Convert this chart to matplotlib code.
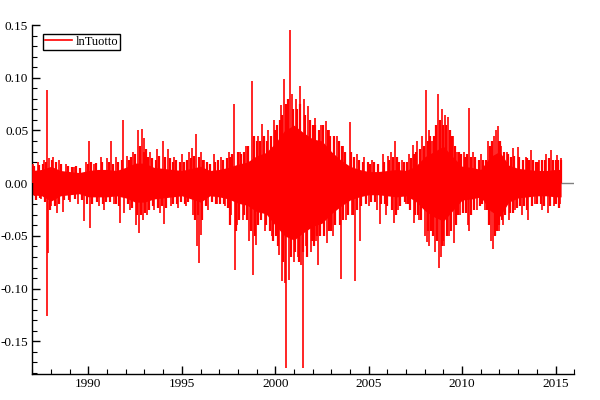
import matplotlib
matplotlib.use('Agg')
import matplotlib.pyplot as plt
from matplotlib.ticker import MultipleLocator, FormatStrFormatter

# dense core band of the daily log returns (half-year steps)
band_years = [1987.0, 1987.5, 1988.0, 1988.5, 1989.0, 1989.5, 1990.0, 1990.5,
              1991.0, 1991.5, 1992.0, 1992.5, 1993.0, 1993.5, 1994.0, 1994.5,
              1995.0, 1995.5, 1996.0, 1996.5, 1997.0, 1997.5, 1998.0, 1998.5,
              1999.0, 1999.5, 2000.0, 2000.5, 2001.0, 2001.5, 2002.0, 2002.5,
              2003.0, 2003.5, 2004.0, 2004.5, 2005.0, 2005.5, 2006.0, 2006.5,
              2007.0, 2007.5, 2008.0, 2008.5, 2009.0, 2009.5, 2010.0, 2010.5,
              2011.0, 2011.5, 2012.0, 2012.5, 2013.0, 2013.5, 2014.0, 2014.5,
              2015.0, 2015.3]
band_hi = [0.012, 0.013, 0.016, 0.012, 0.011, 0.010, 0.012, 0.013,
           0.013, 0.012, 0.015, 0.019, 0.019, 0.015, 0.014, 0.013,
           0.012, 0.014, 0.016, 0.012, 0.013, 0.015, 0.018, 0.020,
           0.026, 0.029, 0.038, 0.050, 0.055, 0.048, 0.042, 0.040,
           0.030, 0.022, 0.016, 0.013, 0.011, 0.011, 0.012, 0.013,
           0.012, 0.016, 0.025, 0.030, 0.035, 0.025, 0.016, 0.015,
           0.013, 0.025, 0.030, 0.017, 0.014, 0.013, 0.012, 0.012,
           0.013, 0.013]
band_lo = [-0.011, -0.012, -0.017, -0.012, -0.011, -0.010, -0.013, -0.013,
           -0.013, -0.012, -0.014, -0.018, -0.018, -0.015, -0.014, -0.013,
           -0.012, -0.015, -0.018, -0.012, -0.013, -0.015, -0.019, -0.021,
           -0.027, -0.029, -0.040, -0.050, -0.054, -0.047, -0.041, -0.038,
           -0.029, -0.022, -0.016, -0.013, -0.011, -0.011, -0.012, -0.013,
           -0.012, -0.017, -0.026, -0.032, -0.036, -0.026, -0.016, -0.015,
           -0.013, -0.026, -0.032, -0.018, -0.014, -0.013, -0.012, -0.012,
           -0.013, -0.013]

# single days that stick far out of the band
spike_years = [
    1987.05, 1987.15, 1987.3, 1987.45, 1987.6, 1987.80, 1987.80, 1987.82,
    1987.9, 1988.0, 1988.1, 1988.3, 1988.45, 1988.65, 1988.8, 1989.0,
    1989.2, 1989.45, 1989.78, 1989.85, 1990.05, 1990.07, 1990.3, 1990.55,
    1990.65, 1990.85, 1991.0, 1991.2, 1991.35, 1991.5, 1991.7, 1991.87,
    1991.92, 1992.05, 1992.2, 1992.4, 1992.55, 1992.67, 1992.7, 1992.85,
    1992.9, 1993.0, 1993.15, 1993.3, 1993.5, 1993.65, 1993.85, 1994.0,
    1994.05, 1994.27, 1994.4, 1994.6, 1994.8, 1995.0, 1995.2, 1995.4,
    1995.55, 1995.6, 1995.75, 1995.79, 1995.93, 1996.0, 1996.05, 1996.2,
    1996.4, 1996.7, 1996.9, 1997.1, 1997.3, 1997.5, 1997.65, 1997.8,
    1997.82, 1997.95, 1998.1, 1998.25, 1998.45, 1998.6, 1998.77, 1998.79,
    1998.95, 1999.1, 1999.3, 1999.45, 1999.6, 1999.8, 1999.95, 2000.2,
    2000.3, 2000.38, 2000.46, 2000.5, 2000.6, 2000.65, 2000.75, 2000.8,
    2000.9, 2001.0, 2001.1, 2001.2, 2001.3, 2001.4, 2001.46, 2001.55,
    2001.65, 2001.75, 2001.9, 2002.1, 2002.2, 2002.3, 2002.45, 2002.7,
    2002.75, 2002.9, 2003.1, 2003.3, 2003.5, 2003.65, 2003.8, 2003.99,
    2004.1, 2004.27, 2004.4, 2004.55, 2004.75, 2005.0, 2005.2, 2005.45,
    2005.6, 2005.75, 2005.9, 2006.05, 2006.2, 2006.37, 2006.4, 2006.55,
    2006.8, 2007.0, 2007.15, 2007.35, 2007.4, 2007.6, 2007.7, 2007.85,
    2008.0, 2008.05, 2008.1, 2008.23, 2008.25, 2008.4, 2008.55, 2008.71,
    2008.77, 2008.85, 2008.93, 2009.05, 2009.1, 2009.25, 2009.3, 2009.5,
    2009.55, 2009.75, 2009.9, 2010.1, 2010.3, 2010.37, 2010.35, 2010.6,
    2010.8, 2011.0, 2011.2, 2011.4, 2011.55, 2011.65, 2011.7, 2011.8,
    2011.92, 2011.95, 2012.1, 2012.2, 2012.4, 2012.5, 2012.7, 2012.85,
    2013.0, 2013.2, 2013.4, 2013.55, 2013.7, 2013.9, 2014.1, 2014.3,
    2014.5, 2014.6, 2014.77, 2014.9, 2015.1, 2015.25, 2015.3]
spike_vals = [
    0.018, -0.012, 0.020, -0.015, 0.022, 0.088, -0.126, -0.066,
    0.024, -0.022, 0.025, -0.028, 0.022, -0.027, 0.018, -0.018,
    0.015, -0.020, -0.036, 0.020, 0.040, -0.043, 0.018, -0.022,
    0.025, -0.025, 0.024, 0.040, -0.020, 0.025, -0.038, 0.060,
    -0.028, 0.026, -0.025, 0.030, -0.040, 0.050, -0.047, 0.051,
    -0.035, 0.043, -0.030, 0.030, -0.025, 0.032, -0.028, 0.040,
    -0.039, 0.032, -0.022, 0.025, -0.024, 0.028, -0.022, 0.030,
    0.033, -0.030, 0.047, -0.060, -0.076, -0.049, 0.030, 0.022,
    -0.025, 0.028, -0.020, 0.025, -0.022, 0.030, -0.030, 0.075,
    -0.082, -0.040, 0.030, -0.035, 0.035, -0.055, 0.097, -0.087,
    -0.059, 0.045, 0.056, -0.045, 0.050, -0.050, 0.060, -0.068,
    0.074, -0.093, 0.099, -0.095, -0.175, 0.070, -0.092, 0.145,
    0.085, -0.075, 0.080, -0.070, 0.092, -0.078, -0.175, 0.080,
    -0.060, 0.073, -0.065, 0.062, -0.055, -0.078, 0.055, 0.059,
    -0.057, 0.050, -0.050, 0.045, -0.091, 0.035, -0.035, 0.058,
    -0.030, -0.093, 0.028, -0.055, 0.025, -0.022, 0.022, -0.025,
    -0.039, 0.028, -0.030, 0.026, 0.030, -0.038, 0.040, -0.025,
    0.022, -0.020, 0.028, 0.036, -0.038, 0.040, -0.035, 0.045,
    -0.050, 0.088, -0.056, -0.060, 0.050, 0.040, -0.065, 0.085,
    -0.080, -0.070, 0.070, -0.060, 0.065, 0.063, -0.050, 0.045,
    -0.057, 0.030, -0.030, 0.030, -0.040, 0.071, -0.045, 0.030,
    -0.025, 0.028, -0.025, 0.040, -0.055, -0.062, 0.045, 0.050,
    0.054, -0.045, 0.035, -0.040, 0.030, -0.035, 0.033, -0.025,
    0.034, -0.030, 0.025, -0.035, 0.031, -0.020, 0.022, -0.025,
    0.028, -0.028, 0.031, -0.022, 0.027, -0.020, 0.024]

# medium days that make the ragged edge of the band: (year, return)
edge_days = [
    (1987.1, 0.016), (1987.2, -0.016), (1987.35, 0.017), (1987.4, -0.014),
    (1987.55, 0.018), (1987.7, -0.018), (1987.75, 0.020), (1987.95, -0.025),
    (1988.05, 0.022), (1988.2, -0.022), (1988.25, 0.020), (1988.4, -0.020),
    (1988.55, 0.018), (1988.7, -0.016), (1988.9, 0.016), (1988.95, -0.016),
    (1989.1, 0.015), (1989.3, -0.015), (1989.35, 0.016), (1989.55, 0.014),
    (1989.65, -0.016), (1989.9, -0.020), (1989.95, 0.018),
    (1990.15, 0.020), (1990.2, -0.020), (1990.4, 0.019), (1990.45, -0.018),
    (1990.75, 0.020), (1990.8, -0.020), (1990.95, -0.018),
    (1991.1, 0.020), (1991.15, -0.018), (1991.3, 0.018), (1991.45, -0.020),
    (1991.6, 0.020), (1991.65, -0.022), (1991.8, 0.022),
    (1992.1, -0.020), (1992.15, 0.022), (1992.3, 0.025), (1992.35, -0.024),
    (1992.5, 0.028), (1992.6, -0.030), (1992.75, 0.035), (1992.8, -0.030),
    (1992.95, 0.030), (1993.05, -0.028), (1993.1, 0.032), (1993.2, 0.025),
    (1993.25, -0.025), (1993.4, 0.024), (1993.45, -0.022), (1993.6, 0.022),
    (1993.7, -0.024), (1993.8, 0.026), (1993.95, -0.022),
    (1994.1, 0.025), (1994.15, -0.024), (1994.35, 0.024), (1994.5, -0.020),
    (1994.55, 0.020), (1994.7, 0.022), (1994.75, -0.020), (1994.9, 0.020),
    (1994.95, -0.018), (1995.1, 0.020), (1995.15, -0.020), (1995.3, 0.022),
    (1995.35, -0.018), (1995.5, 0.024), (1995.65, 0.026), (1995.7, -0.035),
    (1995.85, -0.030), (1995.9, 0.025),
    (1996.1, -0.035), (1996.15, 0.022), (1996.3, -0.022), (1996.35, 0.020),
    (1996.5, 0.018), (1996.6, -0.018), (1996.8, 0.020), (1996.85, -0.020),
    (1996.95, 0.022), (1997.05, -0.020), (1997.2, 0.022), (1997.25, -0.020),
    (1997.4, 0.024), (1997.45, -0.024), (1997.55, 0.025), (1997.6, -0.040),
    (1997.7, 0.028), (1997.9, -0.045),
    (1998.0, 0.030), (1998.05, -0.035), (1998.15, 0.028), (1998.3, -0.030),
    (1998.35, 0.030), (1998.5, -0.035), (1998.55, 0.035), (1998.7, -0.045),
    (1998.85, 0.045), (1998.9, -0.050),
    (1999.0, 0.040), (1999.05, -0.040), (1999.2, 0.040), (1999.25, -0.035),
    (1999.4, 0.045), (1999.5, -0.040), (1999.55, 0.040), (1999.7, -0.045),
    (1999.75, 0.045), (1999.9, -0.055),
    (2000.0, 0.050), (2000.05, -0.050), (2000.1, 0.055), (2000.15, -0.060),
    (2000.25, 0.060), (2000.35, 0.065), (2000.42, -0.075), (2000.55, 0.075),
    (2000.7, 0.080), (2000.85, -0.070), (2000.95, 0.070),
    (2001.05, -0.065), (2001.15, 0.070), (2001.25, -0.075), (2001.35, 0.075),
    (2001.5, -0.065), (2001.6, 0.065), (2001.7, -0.070), (2001.85, 0.060),
    (2001.95, -0.055),
    (2002.0, 0.055), (2002.05, -0.060), (2002.15, 0.055), (2002.25, -0.050),
    (2002.35, 0.050), (2002.4, -0.050), (2002.55, 0.055), (2002.6, -0.050),
    (2002.8, 0.050), (2002.85, -0.045), (2002.95, 0.045),
    (2003.0, -0.045), (2003.15, 0.045), (2003.2, -0.040), (2003.4, 0.040),
    (2003.45, -0.040), (2003.55, 0.035), (2003.6, -0.035), (2003.75, 0.030),
    (2003.9, -0.030),
    (2004.05, 0.030), (2004.15, -0.030), (2004.2, 0.025), (2004.35, -0.025),
    (2004.5, 0.022), (2004.6, -0.022), (2004.7, 0.020), (2004.85, -0.020),
    (2004.95, 0.020),
    (2005.05, 0.018), (2005.1, -0.018), (2005.3, 0.020), (2005.35, -0.018),
    (2005.5, 0.018), (2005.65, -0.020), (2005.8, 0.020), (2005.85, -0.020),
    (2006.0, -0.022), (2006.1, 0.022), (2006.25, -0.025), (2006.3, 0.025),
    (2006.45, -0.030), (2006.5, 0.025), (2006.6, 0.020), (2006.7, -0.022),
    (2006.9, 0.020), (2006.95, -0.018),
    (2007.05, 0.020), (2007.1, -0.020), (2007.2, -0.025), (2007.25, 0.024),
    (2007.45, 0.028), (2007.5, -0.030), (2007.55, 0.030), (2007.65, -0.030),
    (2007.75, 0.032), (2007.8, -0.035), (2007.95, 0.035),
    (2008.15, 0.040), (2008.2, -0.045), (2008.3, 0.045), (2008.35, -0.045),
    (2008.45, -0.050), (2008.5, 0.045), (2008.6, 0.055), (2008.65, -0.055),
    (2008.8, 0.060), (2008.9, -0.060), (2008.97, 0.055),
    (2009.0, -0.055), (2009.15, 0.055), (2009.2, -0.050), (2009.35, 0.050),
    (2009.4, -0.045), (2009.45, 0.045), (2009.6, 0.035), (2009.65, -0.040),
    (2009.8, -0.030), (2009.85, 0.030), (2009.95, 0.028),
    (2010.05, -0.028), (2010.15, 0.025), (2010.2, -0.028), (2010.25, 0.028),
    (2010.45, 0.025), (2010.5, -0.030), (2010.65, -0.025), (2010.7, 0.025),
    (2010.9, 0.022), (2010.95, -0.022),
    (2011.05, -0.020), (2011.1, 0.022), (2011.3, 0.022), (2011.35, -0.025),
    (2011.45, -0.040), (2011.5, 0.035), (2011.6, 0.040), (2011.75, -0.050),
    (2011.85, -0.045), (2011.98, 0.040),
    (2012.0, -0.040), (2012.05, 0.040), (2012.15, -0.035), (2012.25, 0.030),
    (2012.3, -0.030), (2012.45, 0.028), (2012.55, -0.028), (2012.6, 0.025),
    (2012.75, -0.028), (2012.8, 0.026), (2012.95, -0.024),
    (2013.05, 0.025), (2013.1, -0.022), (2013.25, 0.022), (2013.3, -0.022),
    (2013.45, 0.024), (2013.5, -0.025), (2013.6, 0.022), (2013.75, -0.022),
    (2013.8, 0.022), (2013.95, 0.020),
    (2014.0, -0.020), (2014.05, 0.020), (2014.2, -0.020), (2014.25, 0.022),
    (2014.4, -0.022), (2014.45, 0.022), (2014.65, 0.024), (2014.7, -0.022),
    (2014.85, 0.022), (2014.95, -0.020),
    (2015.0, 0.022), (2015.05, -0.020), (2015.15, 0.022), (2015.2, -0.024),
    (2015.28, 0.022)]

plt.rcParams['font.family'] = ['Liberation Serif', 'DejaVu Serif']

fig = plt.figure(figsize=(6, 4), dpi=100)
ax = fig.add_axes([0.054, 0.065, 0.903, 0.8725])

edge_years = [d[0] for d in edge_days]
edge_vals = [d[1] for d in edge_days]

ax.axhline(0, color='#808080', lw=1, zorder=1)
ax.fill_between(band_years, band_lo, band_hi, color='red', lw=0, zorder=2)
ax.vlines(edge_years, 0, edge_vals, color='red', lw=1.6, zorder=3)
ax.vlines(spike_years, 0, spike_vals, color='red', lw=1.2, zorder=3)
ax.plot([], [], color='red', lw=1.2, label='lnTuotto')

ax.set_xlim(1987.0, 2016.0)
ax.set_ylim(-0.181, 0.15)

ax.xaxis.set_major_locator(MultipleLocator(5))
ax.xaxis.set_minor_locator(MultipleLocator(1))
ax.yaxis.set_major_locator(MultipleLocator(0.05))
ax.yaxis.set_minor_locator(MultipleLocator(0.01))
ax.yaxis.set_major_formatter(FormatStrFormatter('%.2f'))

for side in ['top', 'right']:
    ax.spines[side].set_visible(False)
for side in ['left', 'bottom']:
    ax.spines[side].set_linewidth(1.0)

ax.tick_params(which='major', direction='in', length=6, width=1,
               labelsize=9.5, pad=3)
ax.tick_params(which='minor', direction='in', length=3.5, width=0.8)

leg = ax.legend(loc='upper left', bbox_to_anchor=(0.012, 0.985),
                fontsize=9, fancybox=False, framealpha=1,
                edgecolor='black', handlelength=2.2, handletextpad=0.3,
                borderpad=0.15, borderaxespad=0.3)
leg.get_frame().set_linewidth(1.0)

plt.savefig('out.png', dpi=100)
